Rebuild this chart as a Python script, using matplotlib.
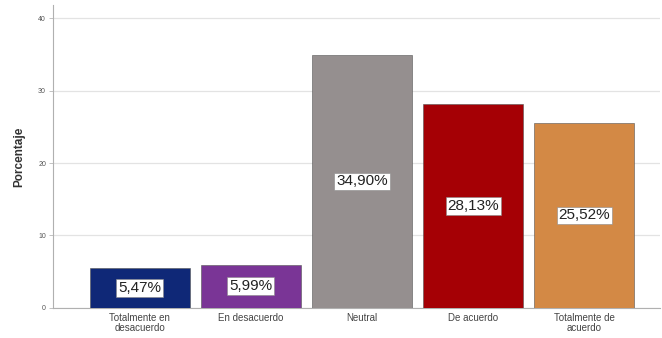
import matplotlib.pyplot as plt

plt.rcParams["font.family"] = ["Liberation Sans", "DejaVu Sans"]

# ---- data ----
categories = ["Totalmente en\ndesacuerdo", "En desacuerdo", "Neutral", "De acuerdo", "Totalmente de\nacuerdo"]
values = [5.47, 5.99, 34.90, 28.13, 25.52]
bar_colors = ["#0f2877", "#7a3596", "#958f8f", "#a50005", "#d38945"]
y_ticks = [0, 10, 20, 30, 40]

fig = plt.figure(figsize=(6.62, 3.38), dpi=100, facecolor="white")
ax = fig.add_axes([0.080, 0.089, 0.917, 0.896])

x = range(len(categories))
ax.bar(x, values, width=0.9, color=bar_colors, edgecolor="#555555", linewidth=0.4, zorder=3)

# value labels in white boxes, centred on each bar
for xi, v in zip(x, values):
    ax.text(xi, v / 2, f"{v:.2f}%".replace(".", ","), ha="center", va="center",
            fontsize=11, color="#222222", zorder=4,
            bbox=dict(boxstyle="square,pad=0.12", facecolor="white",
                      edgecolor="#888888", linewidth=0.4))

ax.set_xlim(-0.78, 4.68)
ax.set_ylim(0, 41.8)
ax.set_yticks(y_ticks)
ax.set_yticklabels([str(t) for t in y_ticks], fontsize=5, color="#555555")
ax.set_xticks(list(x))
ax.set_xticklabels(categories, fontsize=7, color="#444444", linespacing=0.9)
ax.tick_params(axis="x", length=0, pad=4)
ax.tick_params(axis="y", length=3, width=0.5, color="#aaaaaa", pad=2)

ax.grid(axis="y", color="#e3e3e3", linewidth=0.9, zorder=0)
for side in ["top", "right"]:
    ax.spines[side].set_visible(False)
ax.spines["left"].set_color("#b0b0b0")
ax.spines["bottom"].set_color("#b0b0b0")
ax.spines["left"].set_linewidth(0.8)
ax.spines["bottom"].set_linewidth(0.8)

ax.set_ylabel("Porcentaje", fontsize=8.5, fontweight="bold", color="#333333")
ax.yaxis.set_label_coords(-0.046, 0.5)

fig.savefig("out.png", dpi=100, facecolor="white")
